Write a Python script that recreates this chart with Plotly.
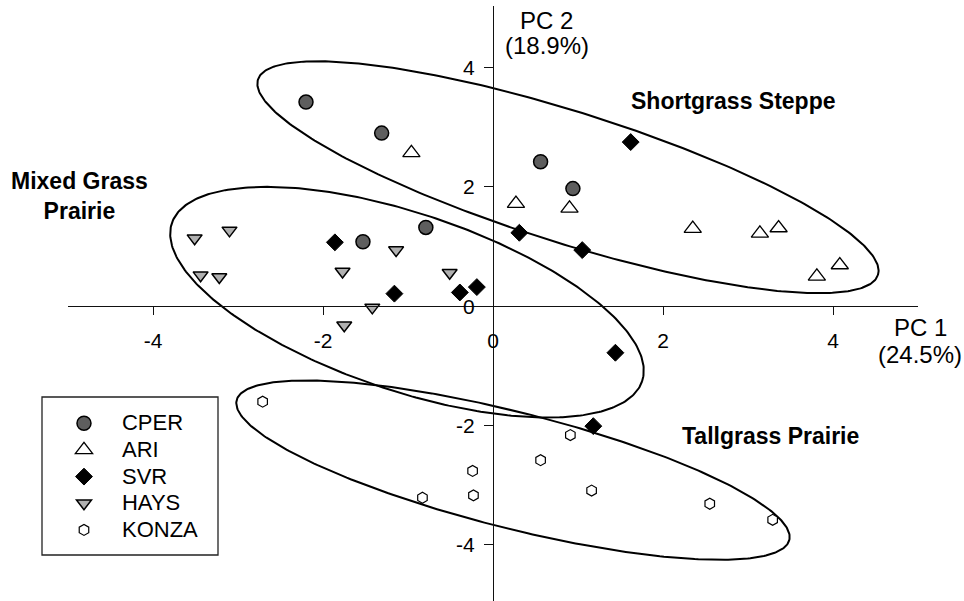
import numpy as np
import plotly.graph_objects as go

# PCA scores (PC 1, PC 2) per site
cper_x = [-2.20, -1.31, -0.79, -1.53, 0.56, 0.94]
cper_y = [3.42, 2.90, 1.32, 1.08, 2.42, 1.97]
ari_x = [-0.96, 0.27, 0.90, 2.35, 3.14, 3.36, 3.81, 4.08]
ari_y = [2.57, 1.72, 1.64, 1.30, 1.22, 1.31, 0.50, 0.69]
svr_x = [-1.86, -1.16, -0.39, -0.19, 1.62, 0.31, 1.05, 1.44, 1.18]
svr_y = [1.07, 0.21, 0.23, 0.32, 2.75, 1.23, 0.94, -0.78, -2.01]
hays_x = [-3.51, -3.10, -3.44, -3.22, -1.77, -1.14, -0.51, -1.42, -1.75]
hays_y = [1.14, 1.27, 0.52, 0.49, 0.58, 0.94, 0.56, -0.02, -0.32]
konza_x = [-2.71, -0.83, -0.24, -0.23, 0.91, 0.56, 1.16, 2.55, 3.29]
konza_y = [-1.60, -3.21, -2.76, -3.17, -2.16, -2.58, -3.09, -3.31, -3.58]

tick_vals = [-4, -2, 0, 2, 4]
tick_text = ["-4", "-2", "0", "2", "4"]

# Grassland group ellipses: centre and two conjugate semi-diameters (PC units)
ellipse_names = ["Shortgrass Steppe", "Mixed Grass Prairie", "Tallgrass Prairie"]
ellipse_centers = [(0.882, 2.161), (-1.012, 0.067), (0.235, -2.747)]
ellipse_u = [(3.647, -1.637), (2.766, -1.325), (3.251, -1.171)]
ellipse_v = [(-0.232, -1.047), (-0.333, -1.407), (-0.167, -0.942)]

X_RANGE = [-5.0, 5.0]
Y_RANGE = [-4.94, 5.03]

FONT = "Liberation Sans, Arial, sans-serif"

fig = go.Figure()

t = np.linspace(0, 2 * np.pi, 361)
for (cx, cy), (ux, uy), (vx, vy) in zip(ellipse_centers, ellipse_u, ellipse_v):
    fig.add_trace(go.Scatter(
        x=cx + ux * np.cos(t) + vx * np.sin(t),
        y=cy + uy * np.cos(t) + vy * np.sin(t),
        mode="lines", line=dict(color="black", width=2),
        showlegend=False, hoverinfo="skip",
    ))

def legend_name(s):
    return '<span style="font-size:22px">%s</span>' % s

series = [
    ("CPER", cper_x, cper_y, dict(symbol="circle", size=14, color="#5e5e5e",
                                  line=dict(color="black", width=1.5))),
    ("ARI", ari_x, ari_y, dict(symbol="triangle-up", size=15, color="white",
                               line=dict(color="black", width=1.3))),
    ("SVR", svr_x, svr_y, dict(symbol="diamond", size=13, color="black",
                               line=dict(color="black", width=1))),
    ("HAYS", hays_x, hays_y, dict(symbol="triangle-down", size=13, color="#b0b0b0",
                                  line=dict(color="black", width=1.5))),
    ("KONZA", konza_x, konza_y, dict(symbol="hexagon", size=11, color="white",
                                     line=dict(color="black", width=1.2))),
]
for name, xs, ys, mk in series:
    fig.add_trace(go.Scatter(x=xs, y=ys, mode="markers", name=legend_name(name),
                             marker=mk))

axis_common = dict(
    showgrid=False, zeroline=False, showline=True, linecolor="#111",
    linewidth=1, ticks="outside", tickcolor="#111", tickwidth=1,
    tickvals=tick_vals, ticktext=tick_text,
    tickfont=dict(family=FONT, size=21, color="black"),
    anchor="free", automargin=False,
)

x_cross = (0 - Y_RANGE[0]) / (Y_RANGE[1] - Y_RANGE[0])
y_cross = (0 - X_RANGE[0]) / (X_RANGE[1] - X_RANGE[0])

fig.update_layout(
    width=964, height=601,
    margin=dict(l=68, r=46, t=6, b=0),
    paper_bgcolor="white", plot_bgcolor="white",
    font=dict(family=FONT, color="black"),
    xaxis=dict(range=X_RANGE, position=x_cross, ticklen=8,
               ticklabelstandoff=8, **axis_common),
    yaxis=dict(range=Y_RANGE, position=y_cross, ticklen=9,
               ticklabelstandoff=5, **axis_common),
    showlegend=True,
    legend=dict(
        x=-0.0259, y=0.3295, xanchor="left", yanchor="top",
        font=dict(family=FONT, size=18.2, color="black"),
        bgcolor="rgba(0,0,0,0)", borderwidth=0, itemwidth=66,
        tracegroupgap=0,
    ),
)

# legend frame
fig.add_shape(type="rect", xref="paper", yref="paper",
              x0=(42 - 68) / 850, x1=(218 - 68) / 850,
              y0=(601 - 555) / 595, y1=(601 - 397) / 595,
              line=dict(color="#222", width=1.3), fillcolor="rgba(0,0,0,0)")

def label(text, x, y, size, bold=False, ref="data"):
    xr, yr = ("x", "y") if ref == "data" else ("paper", "paper")
    fig.add_annotation(x=x, y=y, xref=xr, yref=yr, text=text, showarrow=False,
                       font=dict(family=FONT, size=size, color="black",
                                 weight="bold" if bold else "normal"),
                       xanchor="center", yanchor="middle", align="center")

label("PC 2", 0.635, 4.78, 24)
label("(18.9%)", 0.635, 4.37, 24)
label("PC 1", 1.0024, 0.4605, 24, ref="paper")
label("(24.5%)", 1.0024, 0.4151, 24, ref="paper")
label("Shortgrass Steppe", 2.835, 3.43, 23, bold=True)
label("Mixed Grass<br>Prairie", -4.86, 1.84, 23, bold=True)
label("Tallgrass Prairie", 3.26, -2.18, 23, bold=True)

fig.write_html("out.html")
